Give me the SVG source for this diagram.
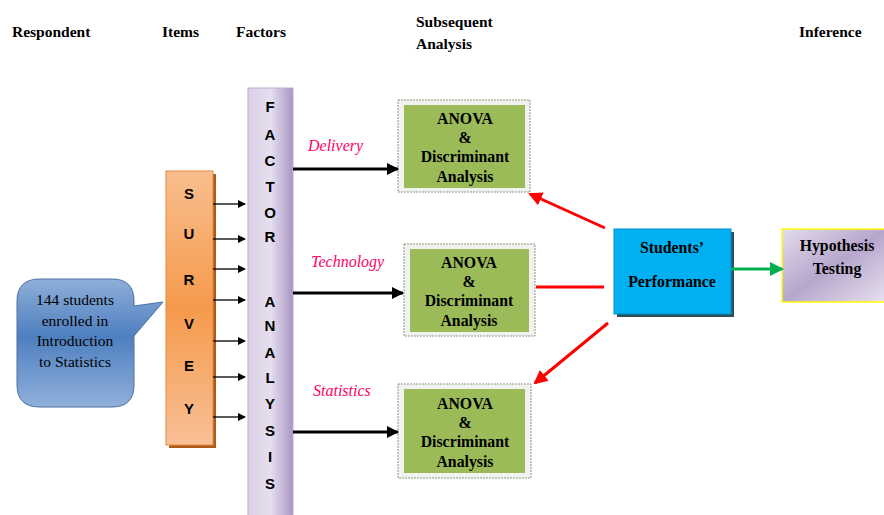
<svg xmlns="http://www.w3.org/2000/svg" width="884" height="515" viewBox="0 0 884 515">
<defs>
<linearGradient id="gOrange" x1="0" y1="0" x2="0" y2="1">
<stop offset="0" stop-color="#F9BE8E"/><stop offset="0.5" stop-color="#F59A4C"/><stop offset="1" stop-color="#F9C097"/>
</linearGradient>
<linearGradient id="gLav" x1="0" y1="0" x2="1" y2="0">
<stop offset="0" stop-color="#D9D0E6"/><stop offset="0.5" stop-color="#E6DFEE"/><stop offset="1" stop-color="#A996C4"/>
</linearGradient>
<linearGradient id="gBlue" x1="0" y1="0" x2="0" y2="1">
<stop offset="0" stop-color="#8EAFD8"/><stop offset="0.45" stop-color="#4F7FC0"/><stop offset="1" stop-color="#8FB0DA"/>
</linearGradient>
<linearGradient id="gHyp" x1="0" y1="0" x2="1" y2="1">
<stop offset="0" stop-color="#E3DCEC"/><stop offset="0.5" stop-color="#B7A6CC"/><stop offset="1" stop-color="#E8E2EF"/>
</linearGradient>
<marker id="aBlack" markerWidth="8" markerHeight="8" refX="7" refY="4" orient="auto" markerUnits="userSpaceOnUse"><path d="M0,0 L8,4 L0,8 z" fill="#000"/></marker>
<marker id="aBig" markerWidth="12" markerHeight="12" refX="11" refY="6" orient="auto" markerUnits="userSpaceOnUse"><path d="M0,0 L12,6 L0,12 z" fill="#000"/></marker>
<marker id="aRed" markerWidth="14" markerHeight="14" refX="12" refY="7" orient="auto" markerUnits="userSpaceOnUse"><path d="M0,0 L14,7 L0,14 z" fill="#FF0000"/></marker>
<marker id="aGreen" markerWidth="14" markerHeight="14" refX="12" refY="7" orient="auto" markerUnits="userSpaceOnUse"><path d="M0,0 L14,7 L0,14 z" fill="#00B050"/></marker>
</defs>
<style>
.hd{font-family:"Liberation Serif",serif;font-weight:bold;font-size:15.5px;fill:#000}
.ser{font-family:"Liberation Serif",serif;font-size:15.5px;fill:#000}
.bs{font-family:"Liberation Serif",serif;font-weight:bold;font-size:15.8px;fill:#000;text-anchor:middle}
.let{font-family:"Liberation Sans",sans-serif;font-weight:bold;font-size:15px;fill:#000;text-anchor:middle}
.lbl{font-family:"Liberation Serif",serif;font-style:italic;font-size:16px;fill:#FF0066}
.green{fill:#9BBB59}
.gframe{fill:#F2F2F2;stroke:#8A9A7A;stroke-width:1;stroke-dasharray:2,1}
</style>
<rect width="884" height="515" fill="#fff"/>
<g id="headers">
<text class="hd" x="12" y="37">Respondent</text>
<text class="hd" x="162" y="37">Items</text>
<text class="hd" x="236" y="37">Factors</text>
<text class="hd" x="416" y="27">Subsequent</text>
<text class="hd" x="416" y="49">Analysis</text>
<text class="hd" x="799" y="37">Inference</text>
</g>
<g id="respondent">
<path d="M40,279 H112 Q134,279 134,301 V306 L163,302 L134,336 V385 Q134,407 112,407 H40 Q17,407 17,385 V301 Q17,279 40,279 Z" fill="url(#gBlue)" stroke="#4A6FA5" stroke-width="1"/>
<text class="ser" x="75" y="305" text-anchor="middle">144 students</text>
<text class="ser" x="75" y="326" text-anchor="middle">enrolled in</text>
<text class="ser" x="75" y="346" text-anchor="middle">Introduction</text>
<text class="ser" x="75" y="367" text-anchor="middle">to Statistics</text>
</g>
<g id="survey">
<rect x="169" y="174" width="47" height="274" fill="#B05A1A"/>
<rect x="166" y="171" width="47" height="274" fill="url(#gOrange)" stroke="#E58A3E" stroke-width="1"/>
<text class="let" x="189" y="199">S</text>
<text class="let" x="189" y="239">U</text>
<text class="let" x="189" y="285">R</text>
<text class="let" x="189" y="329">V</text>
<text class="let" x="189" y="371">E</text>
<text class="let" x="189" y="414">Y</text>
</g>
<g id="factor">
<rect x="248" y="88" width="45" height="430" fill="url(#gLav)" stroke="#B9AACF" stroke-width="1"/>
<text class="let" x="270" y="112">F</text>
<text class="let" x="270" y="140">A</text>
<text class="let" x="270" y="166">C</text>
<text class="let" x="270" y="192">T</text>
<text class="let" x="270" y="218">O</text>
<text class="let" x="270" y="242">R</text>
<text class="let" x="270" y="307">A</text>
<text class="let" x="270" y="331">N</text>
<text class="let" x="270" y="358">A</text>
<text class="let" x="270" y="383">L</text>
<text class="let" x="270" y="409">Y</text>
<text class="let" x="270" y="436">S</text>
<text class="let" x="270" y="462">I</text>
<text class="let" x="270" y="489">S</text>
</g>
<g id="anova1">
<rect class="gframe" x="398" y="100" width="132" height="92"/>
<rect class="green" x="404" y="105" width="121" height="83"/>
<text class="bs" x="465" y="124">ANOVA</text>
<text class="bs" x="465" y="143">&amp;</text>
<text class="bs" x="465" y="162">Discriminant</text>
<text class="bs" x="465" y="182">Analysis</text>
</g>
<g id="anova2">
<rect class="gframe" x="404" y="244" width="131" height="92"/>
<rect class="green" x="410" y="249" width="119" height="83"/>
<text class="bs" x="469" y="268">ANOVA</text>
<text class="bs" x="469" y="287">&amp;</text>
<text class="bs" x="469" y="306">Discriminant</text>
<text class="bs" x="469" y="326">Analysis</text>
</g>
<g id="anova3">
<rect class="gframe" x="398" y="384" width="133" height="94"/>
<rect class="green" x="404" y="389" width="121" height="84"/>
<text class="bs" x="465" y="409">ANOVA</text>
<text class="bs" x="465" y="428">&amp;</text>
<text class="bs" x="465" y="447">Discriminant</text>
<text class="bs" x="465" y="467">Analysis</text>
</g>
<g id="performance">
<rect x="617" y="232" width="117" height="85" fill="#2F4F5F"/>
<rect x="614" y="229" width="117" height="85" fill="#00B0F0" stroke="#0090C8" stroke-width="1"/>
<text class="bs" x="672" y="253">Students’</text>
<text class="bs" x="672" y="287">Performance</text>
</g>
<g id="hypothesis">
<rect x="782" y="229" width="104" height="73" fill="url(#gHyp)" stroke="#FFFF00" stroke-width="1.5"/>
<text class="bs" x="837" y="251">Hypothesis</text>
<text class="bs" x="837" y="274">Testing</text>
</g>
<g id="labels">
<text class="lbl" x="308" y="151">Delivery</text>
<text class="lbl" x="311" y="267">Technology</text>
<text class="lbl" x="313" y="396">Statistics</text>
</g>
<g id="connectors" fill="none">
<g stroke="#000" stroke-width="1.3" marker-end="url(#aBlack)">
<line x1="213" y1="204" x2="245" y2="204"/>
<line x1="213" y1="239" x2="245" y2="239"/>
<line x1="213" y1="269" x2="245" y2="269"/>
<line x1="213" y1="300" x2="245" y2="300"/>
<line x1="213" y1="341" x2="245" y2="341"/>
<line x1="213" y1="377" x2="245" y2="377"/>
<line x1="213" y1="417" x2="245" y2="417"/>
</g>
<g stroke="#000" stroke-width="3" marker-end="url(#aBig)">
<line x1="293" y1="169" x2="398" y2="169"/>
<line x1="293" y1="293" x2="403" y2="293"/>
<line x1="293" y1="432" x2="398" y2="432"/>
</g>
<line x1="605" y1="228" x2="530" y2="194" stroke="#FF0000" stroke-width="3" marker-end="url(#aRed)"/>
<line x1="604" y1="287" x2="536" y2="287" stroke="#FF0000" stroke-width="3"/>
<line x1="608" y1="323" x2="535" y2="383" stroke="#FF0000" stroke-width="3" marker-end="url(#aRed)"/>
<line x1="731" y1="269" x2="782" y2="269" stroke="#00B050" stroke-width="3" marker-end="url(#aGreen)"/>
</g>
</svg>
